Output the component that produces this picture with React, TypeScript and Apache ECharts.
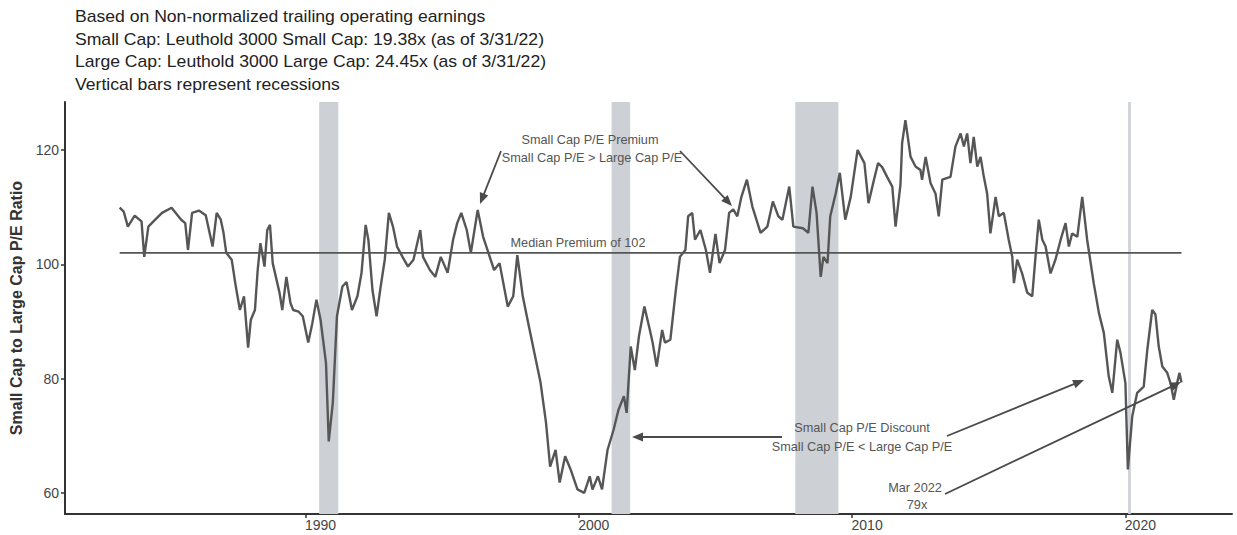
import React, { useEffect, useRef } from "react";
import * as echarts from "echarts";

// Decimal year of each observation
const years: number[] = [
  1983.2, 1983.35, 1983.5, 1983.75, 1984.0, 1984.1, 1984.25, 1984.5, 1984.75, 1985.1,
  1985.45, 1985.6, 1985.7, 1985.85, 1986.1, 1986.35, 1986.6, 1986.75, 1986.9, 1987.0,
  1987.1, 1987.3, 1987.45, 1987.6, 1987.75, 1987.9, 1988.0, 1988.15, 1988.25, 1988.35,
  1988.5, 1988.6, 1988.7, 1988.8, 1989.05, 1989.15, 1989.3, 1989.45, 1989.55, 1989.75,
  1989.9, 1990.1, 1990.25, 1990.4, 1990.55, 1990.75, 1990.85, 1991.0, 1991.15, 1991.35,
  1991.5, 1991.7, 1991.9, 1992.05, 1992.2, 1992.3, 1992.45, 1992.6, 1992.75, 1992.9,
  1993.05, 1993.2, 1993.35, 1993.55, 1993.75, 1993.95, 1994.2, 1994.3, 1994.55, 1994.75,
  1994.95, 1995.2, 1995.4, 1995.55, 1995.7, 1995.9, 1996.05, 1996.3, 1996.5, 1996.9,
  1997.1, 1997.4, 1997.6, 1997.75, 1997.95, 1998.15, 1998.4, 1998.6, 1998.8, 1998.95,
  1999.15, 1999.3, 1999.5, 1999.7, 1999.95, 2000.2, 2000.4, 2000.5, 2000.7, 2000.85,
  2001.05, 2001.27, 2001.45, 2001.65, 2001.75, 2001.9, 2002.05, 2002.2, 2002.4, 2002.6,
  2002.7, 2002.85, 2003.05, 2003.15, 2003.35, 2003.55, 2003.7, 2003.9, 2004.0, 2004.15,
  2004.25, 2004.45, 2004.65, 2004.8, 2005.0, 2005.15, 2005.35, 2005.5, 2005.65, 2005.8,
  2005.95, 2006.15, 2006.35, 2006.65, 2006.9, 2007.1, 2007.3, 2007.45, 2007.7, 2007.85,
  2008.2, 2008.4, 2008.55, 2008.7, 2008.85, 2008.95, 2009.1, 2009.2, 2009.4, 2009.55,
  2009.75, 2009.95, 2010.2, 2010.45, 2010.6, 2010.8, 2010.95, 2011.1, 2011.28, 2011.47,
  2011.59, 2011.77, 2011.83, 2011.95, 2012.14, 2012.32, 2012.5, 2012.56, 2012.69, 2012.87,
  2013.05, 2013.17, 2013.3, 2013.6, 2013.78, 2013.97, 2014.09, 2014.21, 2014.33, 2014.45,
  2014.58, 2014.7, 2014.82, 2014.94, 2015.06, 2015.25, 2015.37, 2015.55, 2015.73, 2015.86,
  2015.92, 2016.04, 2016.22, 2016.41, 2016.59, 2016.71, 2016.83, 2016.96, 2017.08, 2017.26,
  2017.44, 2017.63, 2017.81, 2017.93, 2018.05, 2018.24, 2018.42, 2018.6, 2018.84, 2019.03,
  2019.21, 2019.39, 2019.52, 2019.7, 2019.82, 2020.0, 2020.09, 2020.25, 2020.43, 2020.67,
  2020.8, 2020.98, 2021.1, 2021.22, 2021.35, 2021.53, 2021.65, 2021.77, 2021.89, 2021.98,
  2022.05,
];

// Small cap to large cap P/E ratio (x100)
const ratios: number[] = [
  109.9, 109.2, 106.6, 108.5, 107.5, 101.3, 106.6, 107.8, 109, 109.9,
  107.8, 107.2, 102.5, 109, 109.4, 108.6, 103.1, 109, 107.8, 105.5,
  102, 100.8, 96.1, 92, 94.4, 85.4, 90.3, 92, 99, 103.7,
  99.6, 106, 106.9, 100.2, 95, 92, 97.8, 93.2, 92, 91.7,
  90.9, 86.3, 89.7, 93.8, 90.3, 82.7, 69, 75.8, 90.9, 96.1,
  96.9, 92, 94.4, 98.5, 106.9, 104.3, 95.5, 90.9, 96.1, 100.8,
  109, 106.6, 103.1, 101.3, 99.6, 100.8, 106, 101.3, 99, 97.8,
  101.3, 98.5, 104.3, 107.2, 109, 106, 102, 109.5, 104.8, 99,
  100.2, 92.6, 94.4, 101.6, 94.4, 89.7, 83.9, 79.3, 72.3, 64.6,
  67.5, 61.8, 66.4, 64.1, 60.6, 60, 62.9, 60.6, 62.9, 60.6,
  67.5, 71, 74.5, 76.9, 74, 85.6, 81.5, 87.4, 92.6, 88.5,
  86.3, 82.1, 88.5, 86.3, 86.8, 95.5, 101.3, 102.5, 108.4, 109,
  104.3, 106, 102.5, 98.5, 105.3, 100.2, 102.5, 109, 109.6, 108.4,
  111.8, 114.8, 110.1, 105.5, 106.6, 111, 108.4, 107.8, 113.6, 106.6,
  106.3, 105.5, 113.6, 109, 97.8, 101.3, 100.2, 108.4, 112.4, 116,
  107.8, 111.8, 120, 117.7, 110.7, 114.8, 117.7, 117, 115.3, 113.6,
  106.6, 114, 121.2, 125.2, 118.8, 117.1, 116.5, 114.8, 118.8, 114.2,
  112.4, 108.4, 114.8, 115.3, 120.6, 122.9, 120.6, 122.9, 117.7, 122.3,
  117.1, 118.8, 115.3, 112.4, 105.4, 111.8, 108.4, 109, 104.3, 101.3,
  96.7, 100.8, 98.4, 95, 94.4, 101.3, 107.8, 104.3, 103.1, 98.4,
  100.8, 104.3, 107.2, 103.1, 105.4, 104.8, 111.8, 104.3, 96.7, 91.5,
  88, 80.4, 77.5, 86.8, 84.5, 79.2, 64.1, 73.4, 77.5, 78.6,
  85, 92, 91.2, 85.6, 82.1, 81, 79.2, 76.3, 79.2, 81,
  79.3,
];

const medianValue = 102;

// Recession periods [start, end] in decimal years
const recessionStarts: number[] = [1990.5, 2001.2, 2007.92, 2020.1];
const recessionEnds: number[] = [1991.2, 2001.88, 2009.5, 2020.2];

const xTicks: number[] = [1990, 2000, 2010, 2020];
const yTicks: number[] = [60, 80, 100, 120];

const titleLines: string[] = [
  "Based on Non-normalized trailing operating earnings",
  "Small Cap: Leuthold 3000 Small Cap: 19.38x (as of 3/31/22)",
  "Large Cap: Leuthold 3000 Large Cap: 24.45x (as of 3/31/22)",
  "Vertical bars represent recessions",
];

const FONT = '"Liberation Sans", Arial, sans-serif';

function arrow(x1: number, y1: number, x2: number, y2: number): any[] {
  const color = "#4a4a4a";
  const dx = x2 - x1;
  const dy = y2 - y1;
  const len = Math.sqrt(dx * dx + dy * dy);
  const ux = dx / len;
  const uy = dy / len;
  const L = 11;
  const W = 4.5;
  const bx = x2 - ux * L;
  const by = y2 - uy * L;
  return [
    {
      type: "line",
      z: 100,
      shape: { x1, y1, x2: bx + ux * 2, y2: by + uy * 2 },
      style: { stroke: color, lineWidth: 1.8 },
      silent: true,
    },
    {
      type: "polygon",
      z: 100,
      shape: {
        points: [
          [x2, y2],
          [bx - uy * W, by + ux * W],
          [bx + uy * W, by - ux * W],
        ],
      },
      style: { fill: color },
      silent: true,
    },
  ];
}

function annText(text: string, x: number, y: number): any {
  return {
    type: "text",
    x,
    y,
    z: 100,
    scaleX: 1.06,
    silent: true,
    style: {
      text,
      font: `12px ${FONT}`,
      fill: "#555",
      align: "center",
      verticalAlign: "middle",
    },
  };
}

export default function App() {
  const ref = useRef<HTMLDivElement>(null);

  useEffect(() => {
    document.body.style.margin = "0";
    if (!ref.current) return;
    const chart = echarts.init(ref.current, undefined, { renderer: "svg" });

    const lineData = years.map((y, i) => [y, ratios[i]]);
    const medianData = [
      [years[0], medianValue],
      [years[years.length - 1], medianValue],
    ];
    const areas = recessionStarts.map((s, i) => [{ xAxis: s }, { xAxis: recessionEnds[i] }]);

    const graphics: any[] = [];
    titleLines.forEach((t, i) => {
      graphics.push({
        type: "text",
        x: 75,
        y: 17 + i * 22.5,
        z: 100,
        scaleX: 1.1,
        silent: true,
        style: {
          text: t,
          font: `16px ${FONT}`,
          fill: "#222",
          verticalAlign: "middle",
        },
      });
    });
    graphics.push(annText("Small Cap P/E Premium", 590, 140));
    graphics.push(annText("Small Cap P/E > Large Cap P/E", 592, 158));
    graphics.push(annText("Median Premium of 102", 578, 243));
    graphics.push(annText("Small Cap P/E Discount", 862, 428));
    graphics.push(annText("Small Cap P/E < Large Cap P/E", 862, 447));
    graphics.push(annText("Mar 2022", 915, 488));
    graphics.push(annText("79x", 917, 505));
    graphics.push(...arrow(501, 151, 480, 204));
    graphics.push(...arrow(680, 151, 732, 206));
    graphics.push(...arrow(782, 437, 632, 437));
    graphics.push(...arrow(947, 436, 1084, 380));
    graphics.push(...arrow(945, 494, 1181, 382));

    chart.setOption({
      animation: false,
      grid: { left: 65, right: 5, top: 102, bottom: 21 },
      xAxis: {
        type: "value",
        min: 1981.2,
        max: 2023.9,
        splitLine: { show: false },
        axisLine: { show: true, onZero: false, lineStyle: { color: "#333", width: 2 } },
        axisTick: { show: true, length: 4, customValues: xTicks, lineStyle: { color: "#333", width: 1.5 } },
        axisLabel: {
          customValues: xTicks,
          color: "#444",
          fontSize: 14,
          fontFamily: FONT,
          margin: 4,
          padding: [0, 0, 0, 30],
          formatter: (v: number) => String(Math.round(v)),
        },
      },
      yAxis: {
        type: "value",
        min: 56.3,
        max: 128.4,
        name: "Small Cap to Large Cap P/E Ratio",
        nameLocation: "middle",
        nameGap: 41,
        nameTextStyle: { color: "#333", fontSize: 16, fontWeight: "bold", fontFamily: FONT },
        splitLine: { show: false },
        axisLine: { show: true, lineStyle: { color: "#333", width: 2 } },
        axisTick: { show: true, length: 4, customValues: yTicks, lineStyle: { color: "#333", width: 1.5 } },
        axisLabel: {
          customValues: yTicks,
          color: "#444",
          fontSize: 14,
          fontFamily: FONT,
          margin: 6,
        },
      },
      series: [
        {
          type: "line",
          data: lineData,
          showSymbol: false,
          lineStyle: { color: "#565656", width: 2.4 },
          z: 3,
          markArea: {
            silent: true,
            itemStyle: { color: "#cdd1d6" },
            data: areas,
          },
        },
        {
          type: "line",
          data: medianData,
          showSymbol: false,
          lineStyle: { color: "#555", width: 1.6 },
          z: 2,
        },
      ],
      graphic: graphics,
    });

    return () => chart.dispose();
  }, []);

  return <div ref={ref} style={{ width: 1237, height: 535 }} />;
}
